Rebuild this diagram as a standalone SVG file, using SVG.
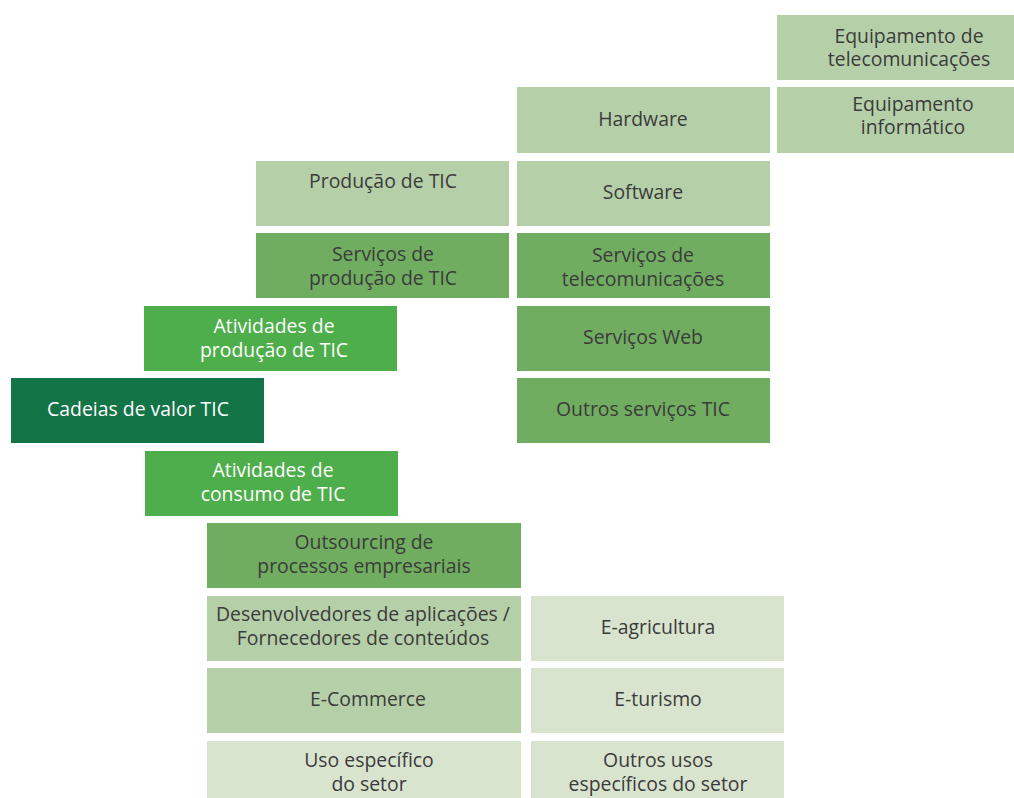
<svg xmlns="http://www.w3.org/2000/svg" width="1014" height="798" viewBox="0 0 1014 798">
<style>
text{font-family:"Open Sans","Noto Sans","Liberation Sans",sans-serif;font-size:19.4px;text-anchor:middle;fill:#3b3b3b}
text.w{fill:#ffffff}
.c1{fill:#d9e4cf}
.c2{fill:#b5d0a9}
.c3{fill:#70ad60}
.c4{fill:#4eae4b}
.c5{fill:#137447}
</style>
<rect width="1014" height="798" fill="#ffffff"/>
<g id="equip-telecom"><rect class="c2" x="777" y="15" width="237" height="65"/><text x="909" y="43">Equipamento de</text><text x="909" y="66">telecomunicações</text></g>
<g id="equip-info"><rect class="c2" x="777" y="87" width="237" height="66"/><text x="913" y="111">Equipamento</text><text x="913" y="134">informático</text></g>
<g id="hardware"><rect class="c2" x="517" y="87" width="253" height="66"/><text x="643" y="126">Hardware</text></g>
<g id="producao"><rect class="c2" x="256" y="161" width="253" height="65"/><text x="383" y="188">Produção de TIC</text></g>
<g id="software"><rect class="c2" x="517" y="161" width="253" height="65"/><text x="643" y="199">Software</text></g>
<g id="serv-producao"><rect class="c3" x="256" y="233" width="253" height="65"/><text x="383" y="261">Serviços de</text><text x="383" y="285">produção de TIC</text></g>
<g id="serv-telecom"><rect class="c3" x="517" y="233" width="253" height="65"/><text x="643" y="262">Serviços de</text><text x="643" y="286">telecomunicações</text></g>
<g id="ativ-producao"><rect class="c4" x="144" y="306" width="253" height="65"/><text class="w" x="274" y="333">Atividades de</text><text class="w" x="274" y="357">produção de TIC</text></g>
<g id="serv-web"><rect class="c3" x="517" y="306" width="253" height="65"/><text x="643" y="344">Serviços Web</text></g>
<g id="cadeias"><rect class="c5" x="11" y="378" width="253" height="65"/><text class="w" x="138" y="416">Cadeias de valor TIC</text></g>
<g id="outros-serv"><rect class="c3" x="517" y="378" width="253" height="65"/><text x="643" y="416">Outros serviços TIC</text></g>
<g id="ativ-consumo"><rect class="c4" x="145" y="451" width="253" height="65"/><text class="w" x="273" y="477">Atividades de</text><text class="w" x="273" y="501">consumo de TIC</text></g>
<g id="outsourcing"><rect class="c3" x="207" y="523" width="314" height="65"/><text x="364" y="549">Outsourcing de</text><text x="364" y="573">processos empresariais</text></g>
<g id="desenvolvedores"><rect class="c2" x="207" y="596" width="314" height="65"/><text x="363" y="621">Desenvolvedores de aplicações /</text><text x="363" y="645">Fornecedores de conteúdos</text></g>
<g id="e-agricultura"><rect class="c1" x="531" y="596" width="253" height="65"/><text x="658" y="634">E-agricultura</text></g>
<g id="e-commerce"><rect class="c2" x="207" y="668" width="314" height="65"/><text x="368" y="706">E-Commerce</text></g>
<g id="e-turismo"><rect class="c1" x="531" y="668" width="253" height="65"/><text x="658" y="706">E-turismo</text></g>
<g id="uso-especifico"><rect class="c1" x="207" y="741" width="314" height="65"/><text x="369" y="767">Uso específico</text><text x="369" y="791">do setor</text></g>
<g id="outros-usos"><rect class="c1" x="531" y="741" width="253" height="65"/><text x="658" y="767">Outros usos</text><text x="658" y="791">específicos do setor</text></g>
<g id="connectors"></g>
</svg>
